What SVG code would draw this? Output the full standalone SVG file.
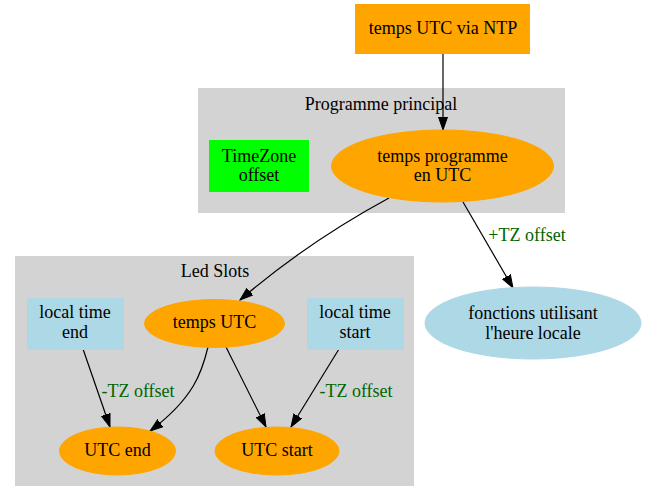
<svg xmlns="http://www.w3.org/2000/svg" width="646" height="502" viewBox="0 0 646 502">
<style>
text{font-family:"Liberation Serif","Times New Roman",serif;font-size:18px;text-anchor:middle;fill:#000}
.lbl{fill:#006400}
.cl{fill:#d3d3d3;stroke:#d3d3d3}
.e{fill:none;stroke:#000;stroke-width:1.2}
</style>
<defs>
<marker id="ah" markerUnits="userSpaceOnUse" markerWidth="14" markerHeight="10" viewBox="0 -5 14 10" refX="13" refY="0" orient="auto">
<path d="M0,-4.5 L13,0 L0,4.5 z" fill="#000" stroke="#000" stroke-width="1"/>
</marker>
</defs>
<rect width="646" height="502" fill="#fff"/>
<g id="cluster_main">
<rect class="cl" x="198.5" y="88.5" width="366" height="124"/>
<text x="381" y="110">Programme principal</text>
</g>
<g id="cluster_led">
<rect class="cl" x="15.5" y="256.5" width="398" height="229"/>
<text x="215" y="277">Led Slots</text>
</g>
<g id="edges">
<path class="e" d="M443,53 L443,130" marker-end="url(#ah)"/>
<path class="e" d="M463,202 L513,288" marker-end="url(#ah)"/>
<path class="e" d="M389,198 C352,218 296,252 240,300" marker-end="url(#ah)"/>
<path class="e" d="M208,347 C202,372 194,398 150,431" marker-end="url(#ah)"/>
<path class="e" d="M226,347 L266,427" marker-end="url(#ah)"/>
<path class="e" d="M83,349 L110,427" marker-end="url(#ah)"/>
<path class="e" d="M339,349 L291,427" marker-end="url(#ah)"/>
<text class="lbl" x="527" y="241">+TZ offset</text>
<text class="lbl" x="138" y="397">-TZ offset</text>
<text class="lbl" x="356" y="397">-TZ offset</text>
</g>
<g id="ntp">
<rect x="355.5" y="4.5" width="174" height="49" fill="#ffa500" stroke="#ffa500"/>
<text x="443" y="34">temps UTC via NTP</text>
</g>
<g id="tz">
<rect x="209.5" y="140.5" width="99" height="51" fill="#00ff00" stroke="#00ff00"/>
<text x="259" y="162">TimeZone</text>
<text x="259" y="181">offset</text>
</g>
<g id="prog">
<ellipse cx="442.5" cy="166" rx="111" ry="36" fill="#ffa500" stroke="#ffa500"/>
<text x="442.5" y="162">temps programme</text>
<text x="442.5" y="181">en UTC</text>
</g>
<g id="fonctions">
<ellipse cx="533" cy="323" rx="108" ry="36" fill="#add8e6" stroke="#add8e6"/>
<text x="533" y="319">fonctions utilisant</text>
<text x="533" y="339">l'heure locale</text>
</g>
<g id="local_end">
<rect x="27.5" y="298.5" width="96" height="51" fill="#add8e6" stroke="#add8e6"/>
<text x="75" y="318">local time</text>
<text x="75" y="338">end</text>
</g>
<g id="temps_utc">
<ellipse cx="214.5" cy="323.5" rx="70" ry="24" fill="#ffa500" stroke="#ffa500"/>
<text x="214.5" y="328">temps UTC</text>
</g>
<g id="local_start">
<rect x="307.5" y="298.5" width="96" height="51" fill="#add8e6" stroke="#add8e6"/>
<text x="355" y="318">local time</text>
<text x="355" y="338">start</text>
</g>
<g id="utc_end">
<ellipse cx="117.5" cy="451" rx="58" ry="24" fill="#ffa500" stroke="#ffa500"/>
<text x="117.5" y="456">UTC end</text>
</g>
<g id="utc_start">
<ellipse cx="277" cy="451" rx="62" ry="24" fill="#ffa500" stroke="#ffa500"/>
<text x="277" y="456">UTC start</text>
</g>
</svg>
